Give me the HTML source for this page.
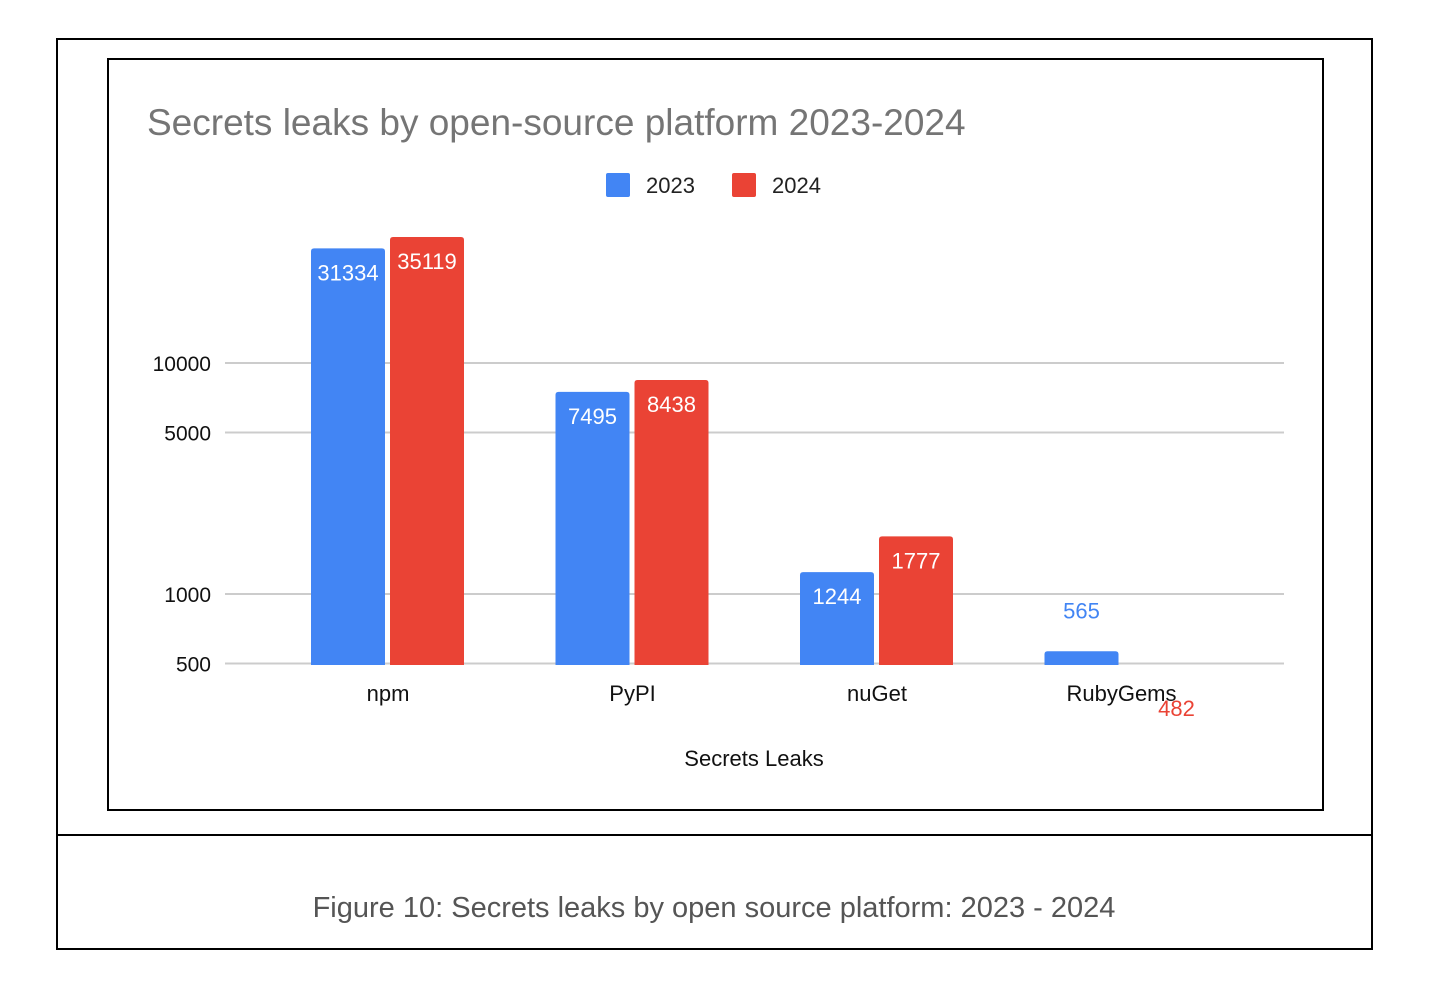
<!DOCTYPE html>
<html><head><meta charset="utf-8"><style>
body{margin:0;background:#fff;font-family:"Liberation Sans",Arial,sans-serif;}
svg{display:block}
</style></head><body>
<svg width="1456" height="997" viewBox="0 0 1456 997">
<rect x="57" y="39" width="1315" height="910" fill="none" stroke="#000" stroke-width="2"/>
<line x1="57" y1="835" x2="1372" y2="835" stroke="#000" stroke-width="2"/>
<rect x="108" y="59" width="1215" height="751" fill="none" stroke="#000" stroke-width="2"/>
<text x="147" y="135" font-size="37" fill="#757575">Secrets leaks by open-source platform 2023-2024</text>
<g>
<rect x="606" y="173" width="24" height="24" rx="2" fill="#4285f4"/>
<text x="646" y="193" font-size="22" fill="#222">2023</text>
<rect x="732" y="173" width="24" height="24" rx="2" fill="#ea4335"/>
<text x="772" y="193" font-size="22" fill="#222">2024</text>
</g>
<g id="grid"></g>
<g id="bars"></g>
<text x="754" y="766" font-size="22" text-anchor="middle" fill="#111">Secrets Leaks</text>
<text x="714" y="917" font-size="29" text-anchor="middle" fill="#555">Figure 10: Secrets leaks by open source platform: 2023 - 2024</text>
</svg>
<script>
const categories=["npm","PyPI","nuGet","RubyGems"];
const values2023=[31334,7495,1244,565];
const values2024=[35119,8438,1777,482];
const tickValues=[500,1000,5000,10000];
const tickLabels=["500","1000","5000","10000"];
const NS="http://www.w3.org/2000/svg";
const baseY=665,minV=490;
function y(v){return 363-231*(Math.log10(v)-4);}
function cx(i){return 388+244.5*i;}
function mk(tag,attrs,parent){const e=document.createElementNS(NS,tag);for(const k in attrs)e.setAttribute(k,attrs[k]);parent.appendChild(e);return e;}
const grid=document.getElementById('grid'),bars=document.getElementById('bars');
tickValues.forEach((v,i)=>{
 const l=mk('line',{x1:225,x2:1284,y1:y(v),y2:y(v),stroke:'#ccc','stroke-width':2},grid);
 
 
 const t=mk('text',{x:211,y:y(v)+8,'font-size':21,'text-anchor':'end',fill:'#111'},grid);
 t.textContent=tickLabels[i];
 
 
});
function bar(v,x,color,name){
 const top=y(v);
 if(top<baseY){
  const p=mk('path',{d:`M${x} ${baseY}V${top+3}Q${x} ${top} ${x+3} ${top}H${x+71}Q${x+74} ${top} ${x+74} ${top+3}V${baseY}Z`,fill:color},bars);
  
  
 }
 let ly,fill;
 if(baseY-top>40){ly=top+32;fill='#fff';}
 else if(top<baseY){ly=top-33;fill=color;}
 else{ly=716;fill=color;}
 const t=mk('text',{x:(top<baseY?x+37:x+53),y:ly,'font-size':22,'text-anchor':'middle',fill:fill},bars);
 t.textContent=v;
 
 
}
categories.forEach((c,i)=>{
 bar(values2023[i],cx(i)-77,'#4285f4','bar-'+c.toLowerCase()+'-2023');
 bar(values2024[i],cx(i)+2,'#ea4335','bar-'+c.toLowerCase()+'-2024');
 const t=mk('text',{x:cx(i),y:701,'font-size':22,'text-anchor':'middle',fill:'#111'},bars);
 t.textContent=c;
 
 
});
</script>
</body></html>
